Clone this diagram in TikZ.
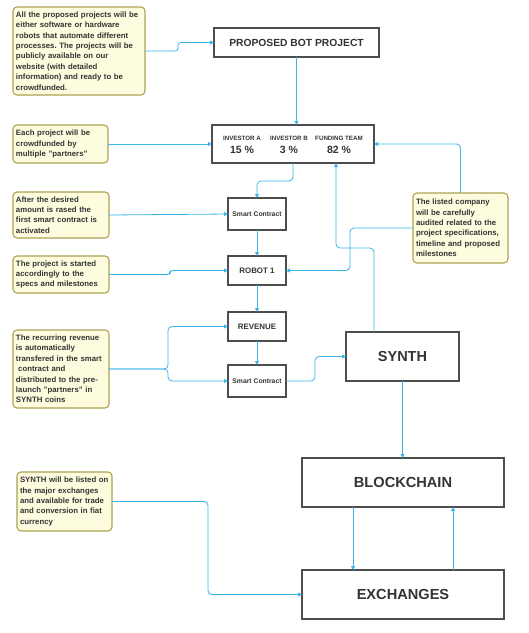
\documentclass[tikz,border=0pt]{standalone}
\usepackage{fontspec}
\setmainfont{Liberation Sans}
\usetikzlibrary{arrows.meta,calc}
\definecolor{notefill}{HTML}{FEFCDF}
\definecolor{noteborder}{HTML}{ADA252}
\definecolor{lineblue}{HTML}{3CB4E8}
\definecolor{boxborder}{HTML}{4D4D4D}
\definecolor{txt}{HTML}{333333}
\begin{document}
\frenchspacing
\begin{tikzpicture}[x=1pt,y=-1pt,
  note/.style={draw=noteborder, fill=notefill, line width=1.1pt, rounded corners=4pt,
    anchor=north west, inner xsep=3pt, inner ysep=0pt, outer sep=0pt, align=left,
    text=txt, font=\fontsize{7.8}{10.4}\selectfont\bfseries\frenchspacing},
  bx/.style={draw=boxborder, fill=white, line width=1.2pt, inner sep=0pt, outer sep=0pt,
    text=txt, font=\bfseries},
  conn/.style={draw=lineblue, line width=0.8pt, rounded corners=4pt,
    -{Triangle[length=4pt,width=4pt]}},
  lbl/.style={text=txt, inner sep=0pt}
]
\useasboundingbox (0,0) rectangle (529,633);

% boxes
\node[bx, minimum width=165pt, minimum height=29pt, font=\fontsize{10.3}{12}\selectfont\bfseries] (pbp) at (296.5,42.5) {PROPOSED BOT PROJECT};
\node[bx, minimum width=162pt, minimum height=38pt] (inv) at (293,144) {};
\node[bx, minimum width=58pt, minimum height=32pt, font=\fontsize{6.8}{8}\selectfont\bfseries] (sc1) at (257,214) {Smart Contract};
\node[bx, minimum width=58pt, minimum height=29pt, font=\fontsize{7.9}{9}\selectfont\bfseries] (rob) at (257,270.5) {ROBOT 1};
\node[bx, minimum width=58pt, minimum height=29pt, font=\fontsize{7.9}{9}\selectfont\bfseries] (rev) at (257,326.5) {REVENUE};
\node[bx, minimum width=58pt, minimum height=32pt, font=\fontsize{6.8}{8}\selectfont\bfseries] (sc2) at (257,381) {Smart Contract};
\node[bx, minimum width=113pt, minimum height=49pt, font=\fontsize{14.5}{16}\selectfont\bfseries] (synth) at (402.5,356.5) {SYNTH};
\node[bx, minimum width=202pt, minimum height=49pt, font=\fontsize{14.6}{16}\selectfont\bfseries] (bc) at (403,482.5) {BLOCKCHAIN};
\node[bx, minimum width=202pt, minimum height=49pt, font=\fontsize{14.6}{16}\selectfont\bfseries] (ex) at (403,594.5) {EXCHANGES};

% investor box contents
\node[lbl, font=\fontsize{6.2}{7}\selectfont\bfseries] (ia) at (242,138) {INVESTOR A};
\node[lbl, font=\fontsize{10.5}{12}\selectfont\bfseries] (pa) at (242,150) {15 \%};
\node[lbl, font=\fontsize{6.2}{7}\selectfont\bfseries] (ib) at (289,138) {INVESTOR B};
\node[lbl, font=\fontsize{10.5}{12}\selectfont\bfseries] (pb) at (289,150) {3 \%};
\node[lbl, font=\fontsize{6.2}{7}\selectfont\bfseries] (ft) at (339,138) {FUNDING TEAM};
\node[lbl, font=\fontsize{10.5}{12}\selectfont\bfseries] (pf) at (339,150) {82 \%};

% notes
\node[note, minimum width=132pt, minimum height=88pt, text width=126pt] (n1) at (13,7)
 {All the proposed projects will be\\either software or hardware\\robots that automate different\\processes. The projects will be\\publicly available on our\\website (with detailed\\information) and ready to be\\crowdfunded.};
\node[note, minimum width=95pt, minimum height=38pt, text width=89pt] (n2) at (13,125)
 {Each project will be\\crowdfunded by\\multiple "partners"};
\node[note, minimum width=96pt, minimum height=46pt, text width=90pt] (n3) at (13,192)
 {After the desired\\amount is rased the\\first smart contract is\\activated};
\node[note, minimum width=96pt, minimum height=37pt, text width=90pt] (n4) at (13,256)
 {The project is started\\accordingly to the\\specs and milestones};
\node[note, minimum width=96pt, minimum height=78pt, text width=90pt] (n5) at (13,330)
 {The recurring revenue\\is automatically\\transfered in the smart\\\hspace*{2.2pt}contract and\\distributed to the pre-\\launch "partners" in\\SYNTH coins};
\node[note, minimum width=95pt, minimum height=59pt, text width=89pt] (n6) at (17,472)
 {SYNTH will be listed on\\the major exchanges\\and available for trade\\and conversion in fiat\\currency};
\node[note, minimum width=95pt, minimum height=70pt, text width=89pt] (n7) at (413,193)
 {The listed company\\will be carefully\\audited related to the\\project specifications,\\timeline and proposed\\milestones};

% connectors
\draw[conn, rounded corners=3pt] (n1.east) -- ++(33,0) |- (pbp.west);
\draw[conn] (pbp.south) -- (pbp.south |- inv.north);
\draw[conn] (n2.east) -- (inv.west);
\draw[conn] (n7.north) |- (inv.east);
\draw[conn] (inv.south) -- ++(0,18) -| (sc1.north);
\draw[conn] (n3.east) -- (sc1.west);
\draw[conn] (sc1.south) -- (rob.north);
\draw[conn, rounded corners=3pt] (n4.east) -- ++(61,0) |- (rob.west);
\draw[conn] (n7.west) -- ++(-63,0) |- (rob.east);
\draw[conn] (rob.south) -- (rev.north);
\draw[conn] (rev.south) -- (sc2.north);
\draw[conn] (n5.east) -- ++(59,0) |- (rev.west);
\draw[conn] (n5.east) -- ++(59,0) |- (sc2.west);
\draw[conn] (sc2.east) -- ++(29,0) |- (synth.west);
\draw[conn] ([xshift=-28.5pt]synth.north) -- ++(0,-84) -| ([xshift=43pt]inv.south);
\draw[conn] (synth.south) -- (synth.south |- bc.north);
\draw[conn] ([xshift=-50pt]bc.south) -- ([xshift=-50pt]ex.north);
\draw[conn] ([xshift=50pt]ex.north) -- ([xshift=50pt]bc.south);
\draw[conn] (n6.east) -- ++(96,0) |- (ex.west);
\end{tikzpicture}
\end{document}
